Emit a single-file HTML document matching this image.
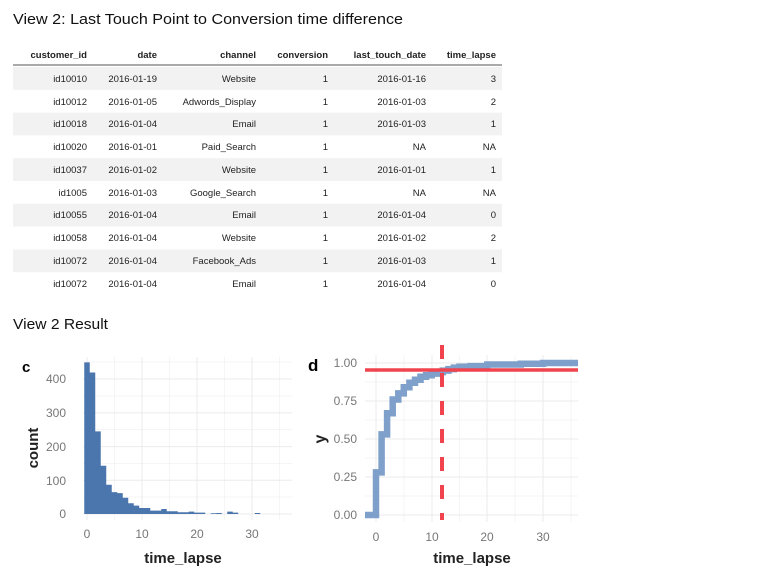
<!DOCTYPE html>
<html><head><meta charset="utf-8"><style>
body{margin:0;background:#fff;width:762px;height:583px;overflow:hidden;font-family:"Liberation Sans",sans-serif}
</style></head><body>
<svg width="762" height="583" xmlns="http://www.w3.org/2000/svg" font-family="Liberation Sans, sans-serif">
<text x="13" y="24" font-size="15" fill="#111" textLength="390" lengthAdjust="spacingAndGlyphs">View 2: Last Touch Point to Conversion time difference</text>
<g font-size="9.5" fill="#222" text-anchor="end">
<g font-weight="bold">
<text x="87" y="58">customer_id</text><text x="157" y="58">date</text><text x="256" y="58">channel</text><text x="328" y="58">conversion</text><text x="426" y="58">last_touch_date</text><text x="496" y="58">time_lapse</text>
</g>
<line x1="13" y1="65" x2="502" y2="65" stroke="#555" stroke-width="1"/>
<rect x="13" y="67" width="489" height="22.8" fill="#f2f2f2"/>
<rect x="13" y="112.6" width="489" height="22.8" fill="#f2f2f2"/>
<rect x="13" y="158.2" width="489" height="22.8" fill="#f2f2f2"/>
<rect x="13" y="203.8" width="489" height="22.8" fill="#f2f2f2"/>
<rect x="13" y="249.4" width="489" height="22.8" fill="#f2f2f2"/>
<g>
<text x="87" y="82">id10010</text><text x="157" y="82">2016-01-19</text><text x="256" y="82">Website</text><text x="328" y="82">1</text><text x="426" y="82">2016-01-16</text><text x="496" y="82">3</text>
<text x="87" y="105">id10012</text><text x="157" y="105">2016-01-05</text><text x="256" y="105">Adwords_Display</text><text x="328" y="105">1</text><text x="426" y="105">2016-01-03</text><text x="496" y="105">2</text>
<text x="87" y="127">id10018</text><text x="157" y="127">2016-01-04</text><text x="256" y="127">Email</text><text x="328" y="127">1</text><text x="426" y="127">2016-01-03</text><text x="496" y="127">1</text>
<text x="87" y="150">id10020</text><text x="157" y="150">2016-01-01</text><text x="256" y="150">Paid_Search</text><text x="328" y="150">1</text><text x="426" y="150">NA</text><text x="496" y="150">NA</text>
<text x="87" y="173">id10037</text><text x="157" y="173">2016-01-02</text><text x="256" y="173">Website</text><text x="328" y="173">1</text><text x="426" y="173">2016-01-01</text><text x="496" y="173">1</text>
<text x="87" y="196">id1005</text><text x="157" y="196">2016-01-03</text><text x="256" y="196">Google_Search</text><text x="328" y="196">1</text><text x="426" y="196">NA</text><text x="496" y="196">NA</text>
<text x="87" y="218">id10055</text><text x="157" y="218">2016-01-04</text><text x="256" y="218">Email</text><text x="328" y="218">1</text><text x="426" y="218">2016-01-04</text><text x="496" y="218">0</text>
<text x="87" y="241">id10058</text><text x="157" y="241">2016-01-04</text><text x="256" y="241">Website</text><text x="328" y="241">1</text><text x="426" y="241">2016-01-02</text><text x="496" y="241">2</text>
<text x="87" y="264">id10072</text><text x="157" y="264">2016-01-04</text><text x="256" y="264">Facebook_Ads</text><text x="328" y="264">1</text><text x="426" y="264">2016-01-03</text><text x="496" y="264">1</text>
<text x="87" y="287">id10072</text><text x="157" y="287">2016-01-04</text><text x="256" y="287">Email</text><text x="328" y="287">1</text><text x="426" y="287">2016-01-04</text><text x="496" y="287">0</text>
</g></g>
<text x="13" y="329" font-size="15" fill="#111" textLength="95" lengthAdjust="spacingAndGlyphs">View 2 Result</text>

<!-- chart c -->
<g stroke="#ebebeb" stroke-width="1">
<line x1="83" x2="292" y1="514" y2="514"/><line x1="83" x2="292" y1="480.3" y2="480.3"/><line x1="83" x2="292" y1="446.6" y2="446.6"/><line x1="83" x2="292" y1="412.9" y2="412.9"/><line x1="83" x2="292" y1="379" y2="379"/>
<line x1="83" x2="292" y1="497" y2="497" stroke-width=".5"/><line x1="83" x2="292" y1="463.5" y2="463.5" stroke-width=".5"/><line x1="83" x2="292" y1="429.7" y2="429.7" stroke-width=".5"/><line x1="83" x2="292" y1="396" y2="396" stroke-width=".5"/><line x1="83" x2="292" y1="362" y2="362" stroke-width=".5"/>
<line x1="87" x2="87" y1="357" y2="520"/><line x1="142" x2="142" y1="357" y2="520"/><line x1="197" x2="197" y1="357" y2="520"/><line x1="252" x2="252" y1="357" y2="520"/>
<line x1="114.5" x2="114.5" y1="357" y2="520" stroke-width=".5"/><line x1="169.5" x2="169.5" y1="357" y2="520" stroke-width=".5"/><line x1="224.5" x2="224.5" y1="357" y2="520" stroke-width=".5"/><line x1="279.5" x2="279.5" y1="357" y2="520" stroke-width=".5"/>
</g>
<path fill="#4a76ad" d="M84.25 514 V362.4 H89.75 V372.5 H95.25 V431.4 H100.75 V465.8 H106.25 V484.7 H111.75 V492.1 H117.25 V493.1 H122.75 V497.8 H128.25 V503.2 H133.75 V505.6 H139.25 V508 H150.25 V510.6 H161.25 V509 H166.75 V511.3 H177.75 V512.3 H188.75 V511.6 H194.25 V512.6 H205.25 V514 H210.75 V513.3 H216.25 V513 H221.75 V514 H227.25 V511.6 H232.75 V512.6 H238.25 V514 H254.75 V513 H260.25 V514 Z"/>
<g font-size="12" fill="#777" text-anchor="end">
<text x="66" y="518">0</text><text x="66" y="485">100</text><text x="66" y="451">200</text><text x="66" y="417">300</text><text x="66" y="383">400</text>
</g>
<g font-size="12" fill="#777" text-anchor="middle">
<text x="87" y="538">0</text><text x="142" y="538">10</text><text x="197" y="538">20</text><text x="252" y="538">30</text>
</g>
<text x="22" y="372" font-size="15" font-weight="bold">c</text>
<text x="183" y="563" font-size="15" font-weight="bold" text-anchor="middle" fill="#222">time_lapse</text>
<text transform="translate(38,448) rotate(-90)" font-size="15" font-weight="bold" text-anchor="middle" fill="#222">count</text>

<!-- chart d -->
<g stroke="#ebebeb" stroke-width="1">
<line x1="365" x2="578" y1="515" y2="515"/><line x1="365" x2="578" y1="477" y2="477"/><line x1="365" x2="578" y1="439" y2="439"/><line x1="365" x2="578" y1="401" y2="401"/><line x1="365" x2="578" y1="363" y2="363"/>
<line x1="365" x2="578" y1="496" y2="496" stroke-width=".5"/><line x1="365" x2="578" y1="458" y2="458" stroke-width=".5"/><line x1="365" x2="578" y1="420" y2="420" stroke-width=".5"/><line x1="365" x2="578" y1="382" y2="382" stroke-width=".5"/>
<line x1="376" x2="376" y1="355" y2="522"/><line x1="432" x2="432" y1="355" y2="522"/><line x1="487" x2="487" y1="355" y2="522"/><line x1="543" x2="543" y1="355" y2="522"/>
<line x1="404" x2="404" y1="355" y2="522" stroke-width=".5"/><line x1="459.5" x2="459.5" y1="355" y2="522" stroke-width=".5"/><line x1="515" x2="515" y1="355" y2="522" stroke-width=".5"/><line x1="571" x2="571" y1="355" y2="522" stroke-width=".5"/>
</g>
<path fill="none" stroke="#7096c4" stroke-opacity=".9" stroke-width="6.5" d="M365 515 H376 V472.4 H381.6 V434.4 H387.1 V413.2 H392.7 V399.5 H398.3 V393.4 H403.8 V387.3 H409.4 V382.8 H415 V379.7 H420.5 V376.7 H426.1 V375.2 H431.7 V373.6 H437.2 V372.1 H442.8 V370.6 H448.4 V369.1 H453.9 V367.6 H459.5 V366.8 H470.6 V366.1 H487.3 V364.5 H520.7 V363.8 H543 V363 H578"/>
<line x1="365" x2="578" y1="370" y2="370" stroke="#f0434e" stroke-width="3.5"/>
<line x1="442" x2="442" y1="345" y2="520" stroke="#f0434e" stroke-width="4" stroke-dasharray="14,14"/>
<g font-size="12" fill="#777" text-anchor="end">
<text x="357" y="519">0.00</text><text x="357" y="481">0.25</text><text x="357" y="443">0.50</text><text x="357" y="405">0.75</text><text x="357" y="367">1.00</text>
</g>
<g font-size="12" fill="#777" text-anchor="middle">
<text x="376" y="541">0</text><text x="432" y="541">10</text><text x="487" y="541">20</text><text x="543" y="541">30</text>
</g>
<text x="308" y="371" font-size="17" font-weight="bold">d</text>
<text x="472" y="563" font-size="15" font-weight="bold" text-anchor="middle" fill="#222">time_lapse</text>
<text transform="translate(325,439) rotate(-90)" font-size="16" font-weight="bold" text-anchor="middle" fill="#222">y</text>
</svg>
</body></html>
